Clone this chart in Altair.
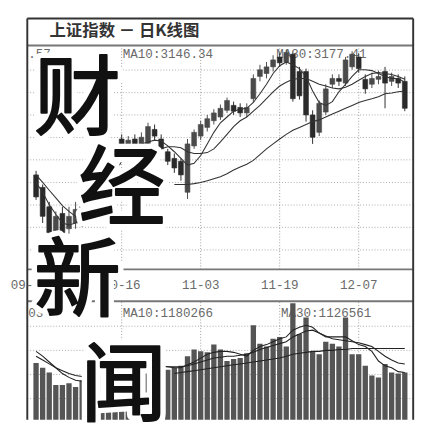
import altair as alt
import pandas as pd

# ---------------- data ----------------
dates = ["09-21","09-22","09-23","09-24","09-25","09-28","09-29","09-30",
         "10-09","10-12","10-13","10-14","10-15","10-16","10-19","10-20",
         "10-21","10-22","10-23","10-26","10-27","10-28","10-29","10-30",
         "11-02","11-03","11-04","11-05","11-06","11-09","11-10","11-11",
         "11-12","11-13","11-16","11-17","11-18","11-19","11-20","11-23",
         "11-24","11-25","11-26","11-27","11-30","12-01","12-02","12-03",
         "12-04","12-07","12-08","12-09","12-10","12-11","12-14","12-15","12-16"]

opens = [2938,2895,2828,2745,2805,2752,2772,2769,2819,2862,2895,2928,2978,3062,3025,3062,
         3038,3038,3095,3062,3018,2995,2985,2878,3038,3072,3102,3125,3138,3161,3178,3171,
         3152,3201,3278,3288,3311,3345,3328,3355,3295,3295,3145,3085,3155,3251,3271,3255,
         3311,3345,3268,3251,3268,3295,3261,3271,3261]
closes = [2862,2795,2739,2795,2739,2795,2819,2852,2869,2895,2938,2978,3028,3028,3058,3018,
          3068,3105,3072,3028,2985,2962,2938,3045,3085,3112,3132,3152,3168,3195,3158,3152,
          3171,3271,3301,3311,3335,3325,3361,3201,3211,3145,3068,3185,3235,3271,3261,3335,
          3355,3305,3235,3271,3278,3255,3278,3255,3168]
highs = [2952,2905,2845,2812,2828,2828,2845,2872,2895,2912,2952,2995,3045,3078,3072,3078,
         3085,3118,3112,3078,3028,3012,2995,3062,3095,3125,3145,3165,3181,3205,3191,3185,
         3185,3285,3318,3328,3351,3358,3371,3365,3311,3305,3161,3195,3251,3285,3285,3345,
         3365,3358,3285,3291,3298,3311,3291,3285,3278]
lows = [2852,2772,2719,2712,2719,2735,2752,2759,2805,2852,2878,2918,2962,3012,3012,3005,
        3025,3028,3058,3018,2972,2945,2918,2855,3028,3058,3088,3112,3128,3152,3145,3138,
        3138,3188,3261,3271,3295,3311,3318,3191,3198,3122,3045,3072,3145,3238,3245,3245,
        3301,3291,3218,3238,3251,3168,3245,3238,3158]

ma5 = [2912,2878,2835,2802,2772,2765,2772,2785,2805,2828,2862,2902,2945,2985,3018,3038,
       3045,3052,3058,3055,3038,3018,2995,2972,2978,3005,3045,3085,3118,3138,3158,3165,
       3168,3188,3218,3251,3288,3315,3328,3318,3305,3278,3228,3188,3178,3191,3225,3251,
       3278,3301,3301,3298,3288,3278,3271,3271,3258]
ma10 = [2938,2912,2885,2859,2832,2812,2795,2782,2775,2785,2799,2822,2852,2885,2918,2952,
        2978,3002,3018,3028,3035,3035,3032,3018,3012,3012,3015,3028,3052,3078,3105,3125,
        3138,3158,3178,3201,3225,3245,3258,3268,3271,3271,3261,3251,3245,3238,3235,3241,
        3251,3265,3278,3288,3291,3288,3285,3278,3268]
ma30_start = 21
ma30 = [2905,2905,2905,2908,2912,2918,2925,2932,2942,2955,2965,2975,2988,3008,3028,3045,
        3062,3078,3092,3102,3112,3122,3128,3138,3148,3158,3168,3178,3188,3195,3201,3208,
        3218,3221,3225,3228]

volumes = [920,857,794,630,630,655,605,693,731,693,756,781,857,907,945,882,
           857,932,857,819,832,857,882,1008,1096,1071,1058,1159,1096,945,970,983,
           1046,1411,1172,1134,1235,1260,1134,1701,1298,1512,1071,1033,1197,1172,1134,1512,
           1033,1033,882,756,731,907,794,781,794]
vma5 = [1071,1008,932,857,781,731,693,680,680,706,718,731,756,781,819,857,
        882,882,895,882,869,857,857,895,932,983,1033,1058,1071,1071,1058,1033,
        1008,1084,1134,1159,1197,1235,1260,1348,1386,1411,1386,1310,1260,1260,1260,1260,
        1210,1159,1134,1071,945,882,857,806,794]
vma10 = [1008,958,907,857,819,781,756,743,731,718,718,731,743,756,781,806,
         819,844,857,869,869,869,869,882,907,932,958,983,995,1008,1008,1021,
         1033,1058,1096,1121,1147,1172,1197,1260,1298,1336,1348,1310,1273,1235,1222,1210,
         1197,1184,1159,1134,1071,1008,958,920,907]
vma30 = [781,794,806,819,832,844,857,869,882,895,907,920,932,945,958,970,
         983,1008,1033,1046,1058,1071,1071,1084,1084,1096,1096,1109,1109,1109,1109,1109,
         1109,1109,1109,1109]

tick_labels = ["09-18", "10-16", "11-03", "11-19", "12-07"]
tick_index = [-1, 13, 25, 37, 49]
price_grid = [3300, 3222, 3145, 3067, 2990, 2912, 2834, 2757, 2679]
vol_grid = [1399, 1084, 769, 454]
price_domain = [2612, 3378]
vol_domain = [0, 1714]

title_text = "上证指数 － 日K线图"
price_labels = [".57", "MA10:3146.34", "MA30:3177.41"]
vol_labels = ["03.", "MA10:1180266", "MA30:1126561"]
overlay_chars = ["财", "经", "新", "闻"]

# ---------------- tables ----------------
n = len(dates)
df = pd.DataFrame({
    "idx": list(range(n)), "date": dates,
    "open": opens, "close": closes, "high": highs, "low": lows,
    "ma5": ma5, "ma10": ma10,
    "ma30": [None] * ma30_start + ma30,
    "vol": volumes, "vma5": vma5, "vma10": vma10,
    "vma30": [None] * ma30_start + vma30,
})
ticks_df = pd.DataFrame({"idx": tick_index, "label": tick_labels})
vticks_df = ticks_df[ticks_df["idx"] >= 0]
pgrid_df = pd.DataFrame({"price": price_grid})
vgrid_df = pd.DataFrame({"vol": vol_grid})

W, H = 400, 416
xs = alt.Scale(domain=[-0.6, 56.54], nice=False, zero=False)
X = alt.X("idx:Q", scale=xs, axis=None)
ps = alt.Scale(domain=price_domain, range=[260, 30], nice=False, zero=False)
vs = alt.Scale(domain=vol_domain, range=[430, 294], nice=False, zero=False)

GRID = "#a8a8a8"
DARK = "#333333"
MONO = "Liberation Mono"
CJK = "Noto Sans CJK SC"

layers = []

# grids
layers.append(alt.Chart(pgrid_df).mark_rule(color=GRID, strokeDash=[1, 2], strokeWidth=1).encode(
    y=alt.Y("price:Q", scale=ps, axis=None)))
layers.append(alt.Chart(vgrid_df).mark_rule(color=GRID, strokeDash=[1, 2], strokeWidth=1).encode(
    y=alt.Y("vol:Q", scale=vs, axis=None)))
layers.append(alt.Chart(vticks_df).mark_rule(color="#999", strokeDash=[1, 2], strokeWidth=1).encode(
    x=X, y=alt.Y(datum=price_domain[0], scale=ps, axis=None), y2=alt.datum(price_domain[1])))
layers.append(alt.Chart(vticks_df).mark_rule(color="#999", strokeDash=[1, 2], strokeWidth=1, clip=True).encode(
    x=X, y=alt.Y(datum=vol_domain[0], scale=vs, axis=None), y2=alt.datum(vol_domain[1])))

# separators and frame
sep = pd.DataFrame({"k": [0]})
layers.append(alt.Chart(sep).mark_rule(color="#777", strokeWidth=2).encode(y=alt.value(28)))
layers.append(alt.Chart(sep).mark_rule(color="#777", strokeWidth=2).encode(y=alt.value(293)))
layers.append(alt.Chart(sep).mark_rule(color="#777", strokeWidth=2).encode(
    y=alt.Y(datum=price_domain[0], scale=ps, axis=None)))
layers.append(alt.Chart(sep).mark_rule(color=DARK, strokeWidth=2).encode(y=alt.value(0)))
layers.append(alt.Chart(sep).mark_rule(color=DARK, strokeWidth=2).encode(x=alt.value(0)))
layers.append(alt.Chart(sep).mark_rule(color=DARK, strokeWidth=2).encode(x=alt.value(W)))

# text labels
def label(txt, x, y, size=13, color="#6a6a6a", font=MONO, align="left", weight="normal"):
    return alt.Chart(pd.DataFrame({"t": [txt]})).mark_text(
        font=font, fontSize=size, color=color, align=align, baseline="middle", fontWeight=weight
    ).encode(text="t:N", x=alt.value(x), y=alt.value(y))

layers.append(label(title_text, 23, 13, size=17, color="#333", font=CJK, weight="bold"))
layers.append(label(price_labels[0], 1, 37))
layers.append(label(price_labels[1], 99, 37))
layers.append(label(price_labels[2], 258, 37))
layers.append(label(vol_labels[0], 1, 305))
layers.append(label(vol_labels[1], 99, 305))
layers.append(label(vol_labels[2], 263, 305))

layers.append(alt.Chart(ticks_df).mark_text(font=MONO, fontSize=13, color="#6a6a6a", baseline="middle").encode(
    x=X, y=alt.value(276), text="label:N"))

# volume
layers.append(alt.Chart(df).mark_bar(size=5.5, color="#555", clip=True).encode(
    x=X, y=alt.Y("vol:Q", scale=vs, axis=None), y2=alt.datum(0)))
for col in ["vma5", "vma10", "vma30"]:
    layers.append(alt.Chart(df).mark_line(color="#222", strokeWidth=1.1, clip=True).encode(
        x=X, y=alt.Y(f"{col}:Q", scale=vs, axis=None)))

# candles
updown = alt.condition("datum.close >= datum.open", alt.value("#4a4a4a"), alt.value("#2a2a2a"))
layers.append(alt.Chart(df).mark_rule(strokeWidth=1).encode(
    x=X, y=alt.Y("low:Q", scale=ps, axis=None), y2="high:Q", color=updown))
layers.append(alt.Chart(df).mark_bar(size=5, strokeWidth=0.6).encode(
    x=X, y=alt.Y("open:Q", scale=ps, axis=None), y2="close:Q", color=updown, stroke=updown))
for col in ["ma5", "ma10", "ma30"]:
    layers.append(alt.Chart(df).mark_line(color="#333", strokeWidth=1.1).encode(
        x=X, y=alt.Y(f"{col}:Q", scale=ps, axis=None)))

# big overlay characters
pos = [(52, 86), (98, 180), (52, 275), (100, 384)]
for ch, (cx, cy) in zip(overlay_chars, pos):
    d = pd.DataFrame({"t": [ch]})
    layers.append(alt.Chart(d).mark_text(font=CJK, fontSize=90, align="center",
                                         baseline="middle", color="white", stroke="white",
                                         strokeWidth=13, strokeJoin="round").encode(
        text="t:N", x=alt.value(cx), y=alt.value(cy)))
    layers.append(alt.Chart(d).mark_text(font=CJK, fontSize=90, align="center",
                                         baseline="middle", color="#111", stroke="#111",
                                         strokeWidth=2, strokeJoin="round").encode(
        text="t:N", x=alt.value(cx), y=alt.value(cy)))

chart = alt.layer(*layers).resolve_scale(y="independent").properties(
    width=W, height=H, padding={"left": 2, "top": 2, "right": 4, "bottom": 0},
    background="white"
).configure_view(stroke=None)

chart.save("out.html", embed_options={"renderer": "svg", "actions": False})
